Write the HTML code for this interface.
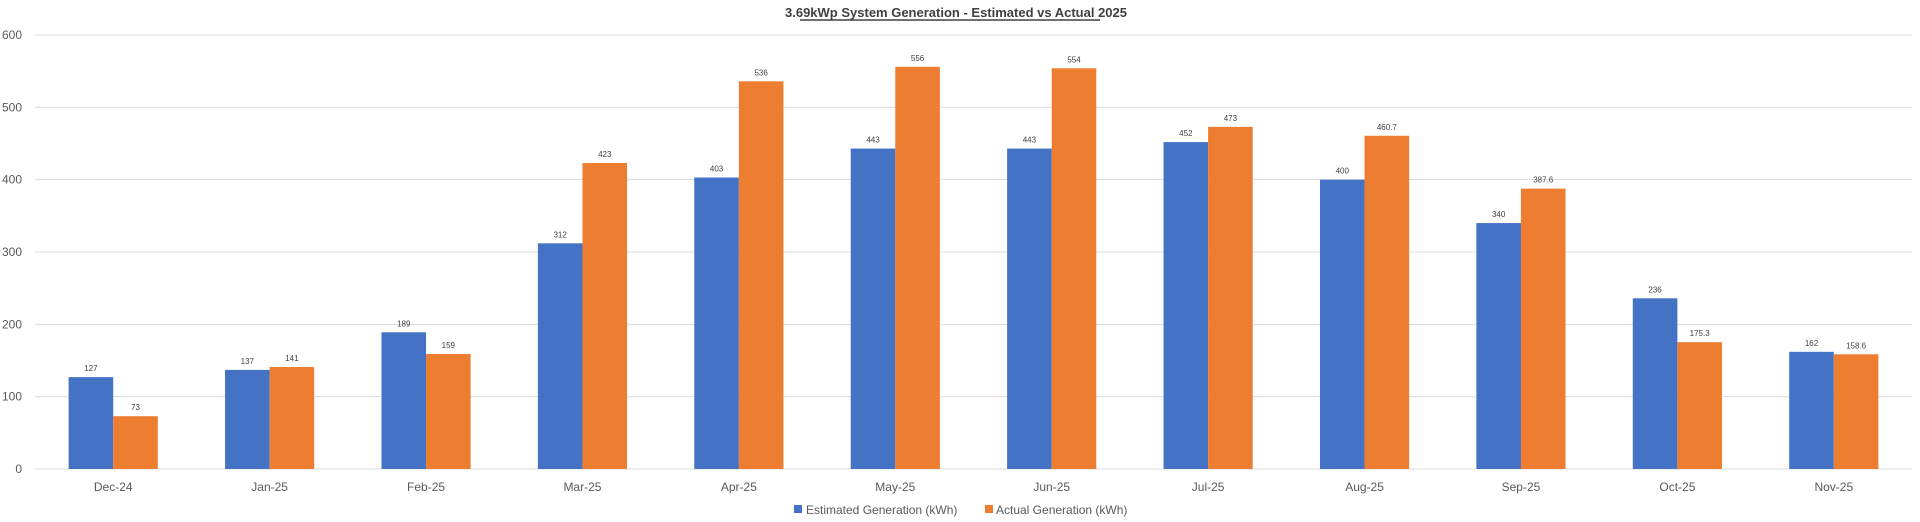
<!DOCTYPE html>
<html><head><meta charset="utf-8"><style>
html,body{margin:0;padding:0;background:#fff;width:1920px;height:522px;overflow:hidden}
svg{display:block;font-family:"Liberation Sans",sans-serif}
</style></head><body>
<svg id="chart" width="1920" height="522" xmlns="http://www.w3.org/2000/svg"></svg>
<script>
const categories = ["Dec-24","Jan-25","Feb-25","Mar-25","Apr-25","May-25","Jun-25","Jul-25","Aug-25","Sep-25","Oct-25","Nov-25"];
const estimated = [127,137,189,312,403,443,443,452,400,340,236,162];
const actual = [73,141,159,423,536,556,554,473,460.7,387.6,175.3,158.6];
const estimatedLabels = ["127","137","189","312","403","443","443","452","400","340","236","162"];
const actualLabels = ["73","141","159","423","536","556","554","473","460.7","387.6","175.3","158.6"];
const yTicks = [0,100,200,300,400,500,600];

const svg = document.getElementById('chart');
const NS = 'http://www.w3.org/2000/svg';
const X0 = 35, X1 = 1912, Y0 = 469, Y1 = 35, YMAX = 600;
const band = (X1 - X0) / categories.length;
const barW = band * 0.285;
function yScale(v){ return Y0 - (v / YMAX) * (Y0 - Y1); }
function xCenter(i){ return X0 + band * (i + 0.5); }
function mk(tag, attrs){ const e = document.createElementNS(NS, tag); for (const k in attrs) e.setAttribute(k, attrs[k]); svg.appendChild(e); return e; }

// title
let t = mk('text', {x: 956, y: 17, 'text-anchor': 'middle', 'font-size': 13, 'font-weight': 'bold', fill: '#404040'});
t.textContent = '3.69kWp System Generation - Estimated vs Actual 2025';


let u = mk('line', {x1: 800, x2: 1100, y1: 20, y2: 20, stroke: '#404040', 'stroke-width': 1.5});



// grid + y ticks
yTicks.forEach(v => {
  const y = yScale(v);
  const g = mk('line', {x1: X0, x2: X1, y1: y, y2: y, stroke: '#dcdcdc', 'stroke-width': 1});
  
  
  const l = mk('text', {x: 22, y: y + 4, 'text-anchor': 'end', 'font-size': 12, fill: '#595959'});
  l.textContent = v;
  
  
});

// bars
categories.forEach((c, i) => {
  const cx = xCenter(i);
  const ye = yScale(estimated[i]), ya = yScale(actual[i]);
  const b1 = mk('rect', {x: cx - barW, y: ye, width: barW, height: Y0 - ye, fill: '#4472c4'});
  
  
  const b2 = mk('rect', {x: cx, y: ya, width: barW, height: Y0 - ya, fill: '#ed7d31'});
  
  
  const l1 = mk('text', {x: cx - barW / 2, y: ye - 6, 'text-anchor': 'middle', 'font-size': 8, fill: '#404040'});
  l1.textContent = estimatedLabels[i];
  
  
  const l2 = mk('text', {x: cx + barW / 2, y: ya - 6, 'text-anchor': 'middle', 'font-size': 8, fill: '#404040'});
  l2.textContent = actualLabels[i];
  
  
  const xl = mk('text', {x: cx, y: 491, 'text-anchor': 'middle', 'font-size': 12, fill: '#595959'});
  xl.textContent = c;
  
  
});

// legend
const s1 = mk('rect', {x: 794, y: 505, width: 8, height: 8, fill: '#4472c4'});


const lt1 = mk('text', {x: 806, y: 514, 'font-size': 12, fill: '#595959'});
lt1.textContent = 'Estimated Generation (kWh)';


const s2 = mk('rect', {x: 985, y: 505, width: 8, height: 8, fill: '#ed7d31'});


const lt2 = mk('text', {x: 996, y: 514, 'font-size': 12, fill: '#595959'});
lt2.textContent = 'Actual Generation (kWh)';


</script>
</body></html>
